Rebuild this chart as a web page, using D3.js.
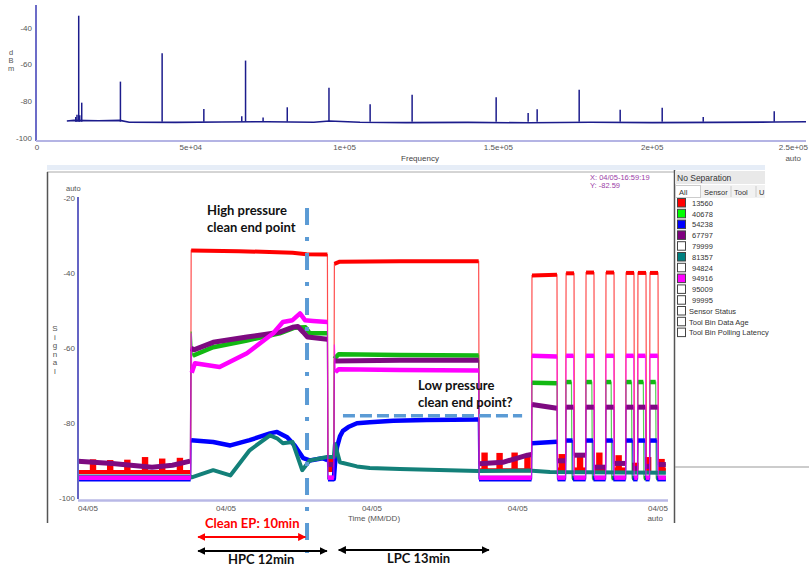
<!DOCTYPE html>
<html>
<head>
<meta charset="utf-8">
<script src="https://cdnjs.cloudflare.com/ajax/libs/d3/7.8.5/d3.min.js"></script>
<style>
  body { margin: 0; background: #fff; }
  svg { display: block; font-family: "Liberation Sans", Arial, sans-serif; }
</style>
</head>
<body>
<div id="chart"></div>
<script>
// ---------- top panel: spectrum ----------
const specFreqTicks = [0, 50000, 100000, 150000, 200000, 250000];
const specFreqLabels = ["0", "5e+04", "1e+05", "1.5e+05", "2e+05", "2.5e+05"];
const specDbTicks = [-40, -60, -80, -100];
// noise floor [Hz, dBm]
const specFloor = [[9700,-90.6],[12000,-90.3],[20000,-90.5],[27000,-90.3],[30000,-91.3],[45000,-91.4],
  [60000,-91.2],[75000,-91.0],[90000,-91.3],[95000,-90.6],[105000,-91.3],[120000,-91.5],[140000,-91.4],
  [160000,-91.6],[180000,-91.3],[200000,-91.5],[220000,-91.4],[240000,-91.2],[250000,-91.0]];
// spectral lines [Hz, peak dBm]
const specPeaks = [[12600,-88.5],[13000,-87.2],[13560,-33.6],[13900,-87.5],[14540,-80.7],[27120,-69.3],
  [40680,-53.9],[54240,-84.1],[66570,-88],[67800,-57.9],[73500,-88.7],[81360,-83.2],[94920,-72.6],
  [108300,-81.6],[121950,-76.4],[149270,-77.7],[159670,-86.3],[162600,-84.3],[176260,-73.7],
  [189590,-84.5],[203250,-83.4],[216590,-88.5],[239670,-85.4]];

// ---------- bottom panel: signal vs time (minutes from start) ----------
const timeTicks = [0, 13.8, 27.4, 41.0, 55];
const timeTickLabels = ["04/05", "04/05", "04/05", "04/05", "04/05"];
const signalTicks = [-20, -40, -60, -80, -100];

const red13560 = [[0,-93],[10.5,-93],[10.55,-33.9],[15,-34.1],[20,-34.5],[21.3,-34.9],[23.25,-35],
  [23.3,-91.5],[23.85,-91.5],[23.9,-37.5],[24.4,-36.9],[30,-36.8],[37.35,-36.8],[37.4,-92.5],[42.28,-92.5],
  [42.32,-40.6],[44.65,-40.4],[44.7,-92.3],[45.45,-92.3],[45.5,-40],[46.24,-40],[46.28,-92.3],[47.32,-92.3],
  [47.36,-39.8],[48.1,-39.8],[48.14,-92.3],[49.18,-92.3],[49.22,-39.8],[49.97,-39.8],[50.0,-92.3],[51.05,-92.3],
  [51.09,-39.9],[51.83,-39.9],[51.87,-92.3],[52.16,-92.3],[52.2,-39.9],[52.95,-39.9],[52.99,-92.3],[53.28,-92.3],
  [53.32,-39.9],[54.07,-39.9],[54.11,-92.3],[54.8,-92.3]];
// red bursts on the floor [minute, top]
const redBursts = [[1.4,-89.6],[3.0,-89.8],[4.6,-89.7],[6.25,-89.0],[7.85,-89.4],[9.5,-89.2],[23.6,-89.3],
  [37.9,-87.8],[39.3,-87.9],[40.7,-87.8],[41.9,-88.3],[45.1,-88.2],[46.8,-88.4],[48.6,-87.8],[50.4,-88.5],
  [51.95,-90.5],[53.15,-89.0],[54.4,-89.5]];
const green40678 = [[0,-94.6],[10.5,-94.6],[10.55,-55.5],[10.7,-62],[12.6,-59.7],[15.75,-57.9],[18.8,-56],
  [20.2,-54.5],[21.2,-54.4],[21.6,-56],[23.25,-56],[23.3,-94.6],[23.85,-94.6],[23.9,-62.8],[24.3,-61.6],
  [30,-61.8],[37.35,-61.9],[37.4,-94.6],[42.28,-94.6],[42.32,-69.2],[44.65,-69.3],[44.7,-94.6],[45.45,-94.6],
  [45.5,-69],[46.0,-69],[46.05,-94.6],[47.32,-94.6],[47.36,-69],[47.9,-69],[47.95,-94.6],[49.18,-94.6],
  [49.22,-69],[49.7,-69],[49.75,-94.6],[51.05,-94.6],[51.09,-69],[51.6,-69],[51.65,-94.6],[52.16,-94.6],
  [52.2,-69],[52.7,-69],[52.75,-94.6],[53.28,-94.6],[53.32,-69],[53.85,-69],[53.9,-94.6],[54.8,-94.6]];
const blue54238 = [[0,-94.9],[10.5,-94.9],[10.55,-84.5],[12.6,-85],[14.2,-85.9],[16,-84.5],[17.9,-82.7],
  [18.55,-82.3],[19.5,-83.7],[20.2,-85.9],[21,-89.3],[21.6,-89.9],[22.8,-89.3],[23.25,-89.8],[23.3,-94.9],
  [23.85,-94.9],[23.95,-91],[24.14,-86.4],[24.42,-83.5],[24.7,-82],[25.2,-81],[26,-80],[27.2,-79.7],
  [29.4,-79.3],[32.5,-79.1],[37.3,-79],[37.38,-94.9],[42.28,-94.9],[42.32,-85.3],[44.65,-84.9],[44.7,-94.9],
  [45.45,-94.9],[45.5,-84.6],[46.1,-84.6],[46.15,-94.9],[47.32,-94.9],[47.36,-84.6],[48.0,-84.6],[48.05,-94.9],
  [49.18,-94.9],[49.22,-84.6],[49.85,-84.6],[49.9,-94.9],[51.05,-94.9],[51.09,-84.6],[51.7,-84.6],[51.75,-94.9],
  [52.16,-94.9],[52.2,-84.6],[52.85,-84.6],[52.9,-94.9],[53.28,-94.9],[53.32,-84.6],[53.95,-84.6],[54.0,-94.9],
  [54.8,-94.9]];
const purple67797 = [[0,-90.1],[3.2,-90.7],[6.9,-91.7],[8.8,-91.2],[10.45,-90.1],[10.55,-60],[10.8,-60.4],
  [12.6,-58.4],[15.75,-57],[18.8,-55.7],[20,-54.4],[20.5,-54.2],[21,-55.7],[21.4,-57],[23.25,-57.6],
  [23.3,-91],[23.85,-91],[23.9,-63.4],[30,-63.2],[37.35,-63.2],[37.4,-90.8],[39.6,-90.4],[41.9,-88.5],
  [42.28,-88.3],[42.32,-75],[44.65,-76],[44.7,-90],[45.45,-90],[45.5,-75.7],[46.2,-75.7],[46.25,-88.5],
  [47.32,-88.5],[47.36,-75.7],[48.1,-75.7],[48.15,-91.7],[49.18,-91.7],[49.22,-75.7],[49.95,-75.7],
  [50.0,-90.7],[51.05,-90.7],[51.09,-75.7],[51.8,-75.7],[51.85,-92],[52.16,-92],[52.2,-75.7],[52.9,-75.7],
  [52.95,-91.5],[53.28,-91.5],[53.32,-75.7],[54.05,-75.7],[54.1,-91],[54.8,-91]];
const teal81357 = [[0,-94.2],[10.5,-94.2],[10.6,-94.4],[12.6,-92.5],[14.2,-93.9],[16,-87.2],[17.9,-83.2],
  [18.55,-84],[19.1,-85.3],[20,-85],[20.9,-92.5],[21.6,-89.9],[23.2,-89],[23.85,-89],[23.95,-85.5],
  [24.42,-90.4],[26,-91.5],[27.2,-91.9],[30,-92.2],[37.3,-92.7],[42,-92.6],[44,-93],[54.8,-93.2]];
const magenta94916 = [[0,-94.5],[10.5,-94.5],[10.55,-56],[10.6,-66.5],[10.9,-64],[13.2,-65],[15.75,-61.3],
  [18.2,-56],[19.1,-53],[20,-52.5],[20.7,-50.7],[21.16,-52.5],[21.9,-52.7],[23.25,-53],[23.3,-94.5],
  [23.85,-94.5],[23.9,-59],[24.0,-66.3],[24.3,-65.6],[30,-65.8],[37.35,-65.9],[37.4,-94.5],[42.28,-94.5],
  [42.32,-62],[44.65,-62.2],[44.7,-94.5],[45.45,-94.5],[45.5,-62],[46.2,-62],[46.25,-94.5],[47.32,-94.5],
  [47.36,-62],[48.1,-62],[48.15,-94.5],[49.18,-94.5],[49.22,-62],[49.95,-62],[50.0,-94.5],[51.05,-94.5],
  [51.09,-62],[51.8,-62],[51.85,-94.5],[52.16,-94.5],[52.2,-62],[52.9,-62],[52.95,-94.5],[53.28,-94.5],
  [53.32,-62],[54.05,-62],[54.1,-94.5],[54.8,-94.5]];

const legendNames = ["13560","40678","54238","67797","79999","81357","94824","94916","95009","99995",
  "Sensor Status","Tool Bin Data Age","Tool Bin Polling Latency"];
const legendColors = ["#ff0000","#00ff00","#0000ff","#800080",null,"#008080",null,"#ff00ff",null,null,null,null,null];

// annotations (minutes / signal units)
const hpEndPoint = 21.35;
const lpEndLevel = -78;
const lpEndSpan = [24.7, 41.4];
const cleanSpan = [11.2, 21.2];
const hpcSpan = [11.2, 23.2];
const lpcSpan = [24.3, 38.3];

const W = 809, H = 568;
const svg = d3.select("#chart").append("svg").attr("width", W).attr("height", H);

// ===== spectrum =====
const fx = d3.scaleLinear().domain([0, 250000]).range([37, 806]);
const fy = d3.scaleLinear().domain([-100, -27.8]).range([138.3, 5]);
const specG = svg.append("g");

specG.append("path").datum(specFloor)
  .attr("fill", "none").attr("stroke", "#1c1c8c").attr("stroke-width", 1.6)
  .attr("d", d3.line().x(d => fx(d[0])).y(d => fy(d[1])));
specG.append("g").selectAll("line").data(specPeaks).join("line")
  .attr("x1", d => fx(d[0])).attr("x2", d => fx(d[0]))
  .attr("y1", fy(-91)).attr("y2", d => fy(d[1]))
  .attr("stroke", "#1c1c8c").attr("stroke-width", 1.5);

specG.append("line").attr("x1", 36).attr("x2", 36).attr("y1", 5).attr("y2", 141)
  .attr("stroke", "#6c6cc8").attr("stroke-width", 2);
specG.append("line").attr("x1", 36).attr("x2", 806).attr("y1", 141).attr("y2", 141)
  .attr("stroke", "#b4b4e4").attr("stroke-width", 2);

specG.append("g").selectAll("text").data(specDbTicks).join("text")
  .attr("x", 32).attr("y", d => fy(d) + 3).attr("text-anchor", "end")
  .attr("font-size", 8).attr("fill", "#555").text(d => d);
specG.append("g").selectAll("text").data(specFreqTicks).join("text")
  .attr("x", (d, i) => i === specFreqTicks.length - 1 ? 808 : fx(d))
  .attr("y", 150).attr("text-anchor", (d, i) => i === specFreqTicks.length - 1 ? "end" : "middle")
  .attr("font-size", 8).attr("fill", "#555").text((d, i) => specFreqLabels[i]);
specG.append("text").attr("x", 420).attr("y", 161).attr("text-anchor", "middle")
  .attr("font-size", 8).attr("fill", "#444").text("Frequency");
specG.append("text").attr("x", 801).attr("y", 161).attr("text-anchor", "end")
  .attr("font-size", 8).attr("fill", "#555").text("auto");
["d", "B", "m"].forEach((c, i) => specG.append("text").attr("x", 11).attr("y", 55 + i * 8)
  .attr("text-anchor", "middle").attr("font-size", 7.5).attr("fill", "#555").text(c));

// ===== bottom frame + legend panel =====
const frame = svg.append("g");
frame.append("rect").attr("x", 47).attr("y", 165).attr("width", 718).attr("height", 5).attr("fill", "#e6edf7");
frame.append("line").attr("x1", 47).attr("x2", 674).attr("y1", 172).attr("y2", 172).attr("stroke", "#aaa");
frame.append("line").attr("x1", 47.5).attr("x2", 47.5).attr("y1", 172).attr("y2", 523).attr("stroke", "#555").attr("stroke-width", 1.5);
frame.append("line").attr("x1", 674.5).attr("x2", 674.5).attr("y1", 170).attr("y2", 523).attr("stroke", "#555").attr("stroke-width", 1.5);
frame.append("line").attr("x1", 675).attr("x2", 809).attr("y1", 467).attr("y2", 467).attr("stroke", "#999");
frame.append("rect").attr("x", 675).attr("y", 171).attr("width", 90).attr("height", 13).attr("fill", "#e9e9e9");
frame.append("text").attr("x", 677).attr("y", 180.5).attr("font-size", 8.5).attr("fill", "#333").text("No Separation");
frame.append("rect").attr("x", 675).attr("y", 185).attr("width", 90).attr("height", 13).attr("fill", "#f2f2f2");
frame.append("rect").attr("x", 675.5).attr("y", 185.5).attr("width", 25).attr("height", 12).attr("fill", "#fff").attr("stroke", "#ccc");
[[679, "All"], [704, "Sensor"], [734, "Tool"], [759, "U"]].forEach(([tx, t]) =>
  frame.append("text").attr("x", tx).attr("y", 194.5).attr("font-size", 7.5).attr("fill", "#333").text(t));
[731, 756].forEach(lx => frame.append("line").attr("x1", lx).attr("x2", lx).attr("y1", 186).attr("y2", 197).attr("stroke", "#ccc"));

const leg = frame.append("g").selectAll("g").data(legendNames).join("g")
  .attr("transform", (d, i) => `translate(677,${198 + i * 10.8})`);
leg.append("rect").attr("x", 0.5).attr("y", 0.5).attr("width", 8).attr("height", 8.5)
  .attr("fill", (d, i) => legendColors[i] || "#fff").attr("stroke", "#444").attr("stroke-width", 1);
leg.append("text").attr("x", (d, i) => i < 10 ? 15 : 12).attr("y", 7.8)
  .attr("font-size", 7.5).attr("fill", "#333").text(d => d);

// ===== signal chart =====
const x = d3.scaleLinear().domain([0, 55]).range([78, 668]);
const y = d3.scaleLinear().domain([-100, -20]).range([498.3, 198.3]);
const plot = svg.append("g");

const series = [
  { pts: red13560, color: "#ff0000", w: 4 },
  { pts: green40678, color: "#12b812", w: 4.5 },
  { pts: blue54238, color: "#0000ff", w: 4.5 },
  { pts: teal81357, color: "#138079", w: 4 },
  { pts: purple67797, color: "#7d0a80", w: 5 },
  { pts: magenta94916, color: "#ff00ff", w: 4.5 }
];

// split a trace where it jumps, so jumps are drawn thin and plateaus thick
function runs(pts) {
  const out = []; let cur = [pts[0]];
  for (let i = 1; i < pts.length; i++) {
    const dv = Math.abs(pts[i][1] - pts[i - 1][1]), dt = pts[i][0] - pts[i - 1][0];
    if (dv > 4 && dv / dt > 40) { out.push(cur); cur = [pts[i]]; } else cur.push(pts[i]);
  }
  out.push(cur);
  return out;
}
const line = d3.line().x(d => x(d[0])).y(d => y(d[1]));

series.forEach((s, si) => {
  const g = plot.append("g");
  g.append("path").datum(s.pts).attr("fill", "none").attr("stroke", s.color)
    .attr("stroke-width", 1.2).attr("stroke-opacity", 0.7).attr("d", line);
  g.selectAll("path.band").data(runs(s.pts).filter(r => r.length > 1)).join("path").attr("class", "band")
    .attr("fill", "none").attr("stroke", s.color).attr("stroke-width", s.w)
    .attr("stroke-linejoin", "round").attr("d", line);
  if (si === 0) {
    g.selectAll("rect").data(redBursts).join("rect")
      .attr("x", d => x(d[0]) - 3.2).attr("width", 6.4)
      .attr("y", d => y(d[1])).attr("height", d => y(-93) - y(d[1]))
      .attr("fill", s.color);
  }
});

// axes
plot.append("line").attr("x1", 78).attr("x2", 78).attr("y1", 197).attr("y2", 499)
  .attr("stroke", "#6464c4").attr("stroke-width", 2);
plot.append("line").attr("x1", 78).attr("x2", 668).attr("y1", 500.5).attr("y2", 500.5)
  .attr("stroke", "#b8b8e6").attr("stroke-width", 2.5);
plot.append("g").selectAll("text").data(signalTicks).join("text")
  .attr("x", 75).attr("y", d => y(d) + 3).attr("text-anchor", "end")
  .attr("font-size", 8).attr("fill", "#555").text(d => d);
plot.append("g").selectAll("text").data(timeTicks).join("text")
  .attr("x", d => x(d)).attr("y", 511)
  .attr("text-anchor", (d, i) => i === 0 ? "start" : i === timeTicks.length - 1 ? "end" : "middle")
  .attr("font-size", 8).attr("fill", "#555").text((d, i) => timeTickLabels[i]);
plot.append("text").attr("x", 374).attr("y", 521).attr("text-anchor", "middle")
  .attr("font-size", 8).attr("fill", "#555").text("Time (MM/DD)");
plot.append("text").attr("x", 663).attr("y", 521).attr("text-anchor", "end")
  .attr("font-size", 8).attr("fill", "#555").text("auto");
plot.append("text").attr("x", 66).attr("y", 191).attr("font-size", 7.5).attr("fill", "#555").text("auto");
"Signal".split("").forEach((c, i) => plot.append("text").attr("x", 55).attr("y", 331 + i * 8.5)
  .attr("text-anchor", "middle").attr("font-size", 8).attr("fill", "#555").text(c));
plot.append("text").attr("x", 590).attr("y", 180).attr("font-size", 7.5).attr("fill", "#9a3ca6").text("X: 04/05-16:59:19");
plot.append("text").attr("x", 590).attr("y", 188).attr("font-size", 7.5).attr("fill", "#9a3ca6").text("Y: -82.59");

// ===== annotations =====
const ann = svg.append("g").attr("font-family", "Lato, 'Open Sans', sans-serif").attr("font-weight", "bold");
ann.append("line").attr("x1", x(hpEndPoint)).attr("x2", x(hpEndPoint)).attr("y1", 208).attr("y2", 553)
  .attr("stroke", "#5b9bd5").attr("stroke-width", 4).attr("stroke-dasharray", "17,12,4,12");
ann.append("line").attr("x1", x(lpEndSpan[0])).attr("x2", x(lpEndSpan[1]))
  .attr("y1", y(lpEndLevel)).attr("y2", y(lpEndLevel))
  .attr("stroke", "#5b9bd5").attr("stroke-width", 3.5).attr("stroke-dasharray", "12,5");

const defs = svg.append("defs");
["#ff0000", "#000000"].forEach((c, i) => defs.append("marker").attr("id", "ah" + i)
  .attr("viewBox", "0 0 10 10").attr("refX", 9).attr("refY", 5)
  .attr("markerWidth", 4.5).attr("markerHeight", 4.5).attr("orient", "auto-start-reverse")
  .append("path").attr("d", "M0,0L10,5L0,10Z").attr("fill", c));
[[cleanSpan, 537, 0, "#ff0000"], [hpcSpan, 551, 1, "#000"], [lpcSpan, 550, 1, "#000"]].forEach(([s, yy, m, c]) =>
  ann.append("line").attr("x1", x(s[0])).attr("x2", x(s[1])).attr("y1", yy).attr("y2", yy)
    .attr("stroke", c).attr("stroke-width", 1.8)
    .attr("marker-start", `url(#ah${m})`).attr("marker-end", `url(#ah${m})`));

const label = (tx, ty, t, c) => ann.append("text").attr("x", tx).attr("y", ty)
  .attr("font-size", 13).attr("fill", c || "#111").text(t);
label(207, 215, "High pressure");
label(207, 232, "clean end point");
label(418, 390, "Low pressure");
label(418, 407, "clean end point?");
label(205, 528, "Clean EP: 10min", "#ff0000");
label(228, 564, "HPC 12min");
label(387, 563, "LPC 13min");
</script>
</body>
</html>
